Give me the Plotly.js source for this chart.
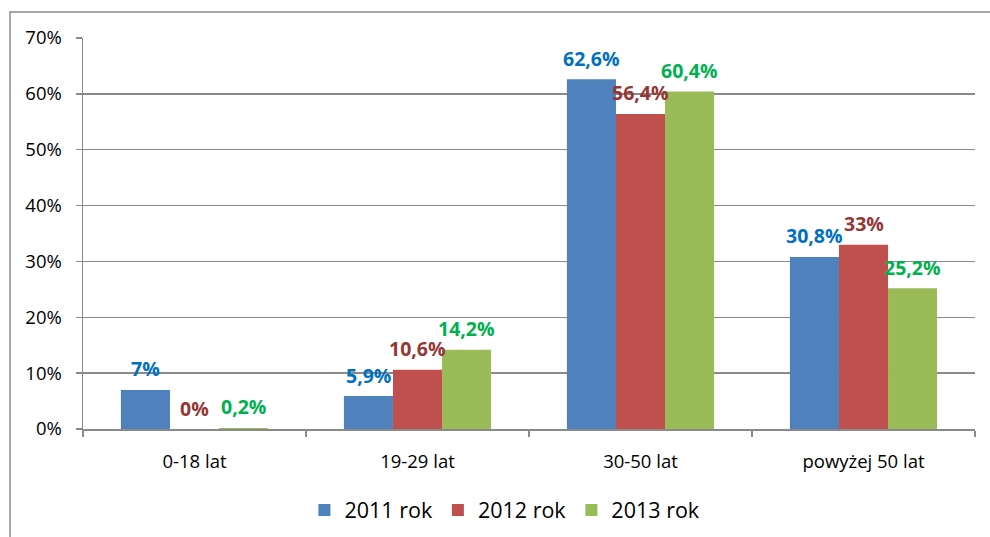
<!DOCTYPE html>
<html>
<head>
<meta charset="utf-8">
<script src="https://cdn.plot.ly/plotly-3.0.1.min.js"></script>
<style>
html,body{margin:0;padding:0;background:#fff;}
#chart{width:990px;height:537px;}
</style>
</head>
<body>
<div id="chart"></div>
<script>
// ---- data ----
const categories = ["0-18 lat", "19-29 lat", "30-50 lat", "powyżej 50 lat"];
const seriesNames = ["2011 rok", "2012 rok", "2013 rok"];
const values2011 = [7, 5.9, 62.6, 30.8];
const values2012 = [0, 10.6, 56.4, 33];
const values2013 = [0.2, 14.2, 60.4, 25.2];
const yTicks = [0, 10, 20, 30, 40, 50, 60, 70];

// ---- styles ----
const barColors = ["#4F81BD", "#C0504D", "#9BBB59"];
const labelColors = ["#0070C0", "#953735", "#00B050"];
const gridColor = "#8a8a8a";
const fontFamily = "'Open Sans', 'Noto Sans', sans-serif";

const W = 990, H = 537;
const M = {l: 83, r: 15, t: 38, b: 108};
const bargap = 0.34;
const plotW = W - M.l - M.r;
const plotH = H - M.t - M.b;
const barPx = plotW / categories.length * (1 - bargap) / 3;

const allSeries = [values2011, values2012, values2013];
const fmt = v => String(v).replace('.', ',') + '%';

const traces = allSeries.map((vals, i) => ({
  type: 'bar',
  name: seriesNames[i],
  x: categories,
  y: vals,
  marker: {color: barColors[i], line: {width: 0}},
  hoverinfo: 'none'
}));

const annotations = [];
allSeries.forEach((vals, i) => {
  vals.forEach((v, j) => {
    annotations.push({
      x: categories[j], y: v, xref: 'x', yref: 'y',
      text: '<b>' + fmt(v) + '</b>',
      showarrow: false,
      xshift: (i - 1) * barPx,
      yshift: 21,
      font: {family: fontFamily, size: 19.5, color: labelColors[i]}
    });
  });
});

const layout = {
  width: W, height: H,
  margin: M,
  paper_bgcolor: '#fff',
  plot_bgcolor: '#fff',
  barmode: 'group',
  bargap: bargap,
  bargroupgap: 0,
  showlegend: true,
  legend: {
    orientation: 'h',
    xref: 'paper', yref: 'container',
    x: 0.473, xanchor: 'center',
    y: 1 - 510 / H, yanchor: 'middle',
    font: {family: fontFamily, size: 21.5, color: '#000'},
    itemwidth: 30,
    traceorder: 'normal'
  },
  xaxis: {
    type: 'category',
    showline: true, linecolor: gridColor, linewidth: 1.5,
    ticks: 'outside', tickson: 'boundaries', ticklen: 6, tickcolor: gridColor, tickwidth: 1.5,
    tickfont: {family: fontFamily, size: 18.5, color: '#000'},
    ticklabelstandoff: 15,
    showgrid: false, zeroline: false,
    fixedrange: true
  },
  yaxis: {
    range: [0, 70],
    tickvals: yTicks,
    ticktext: yTicks.map(t => t + '%'),
    showline: true, linecolor: gridColor, linewidth: 1.5,
    ticks: 'outside', ticklen: 6, tickcolor: gridColor, tickwidth: 1.5,
    tickfont: {family: fontFamily, size: 18.5, color: '#000'},
    ticklabelstandoff: 10,
    showgrid: true, gridcolor: gridColor, gridwidth: 1.5,
    zeroline: false,
    fixedrange: true
  },
  annotations: annotations,
  shapes: [{
    type: 'rect', xref: 'paper', yref: 'paper',
    x0: (10 - M.l) / plotW, x1: (W + 10 - M.l) / plotW,
    y0: -(H + 10 - M.t - plotH) / plotH, y1: (H - M.b - 12) / plotH,
    line: {color: '#8c8c8c', width: 1.5},
    fillcolor: 'rgba(0,0,0,0)',
    layer: 'below'
  }]
};

Plotly.newPlot('chart', traces, layout, {displayModeBar: false, staticPlot: true});
</script>
</body>
</html>
